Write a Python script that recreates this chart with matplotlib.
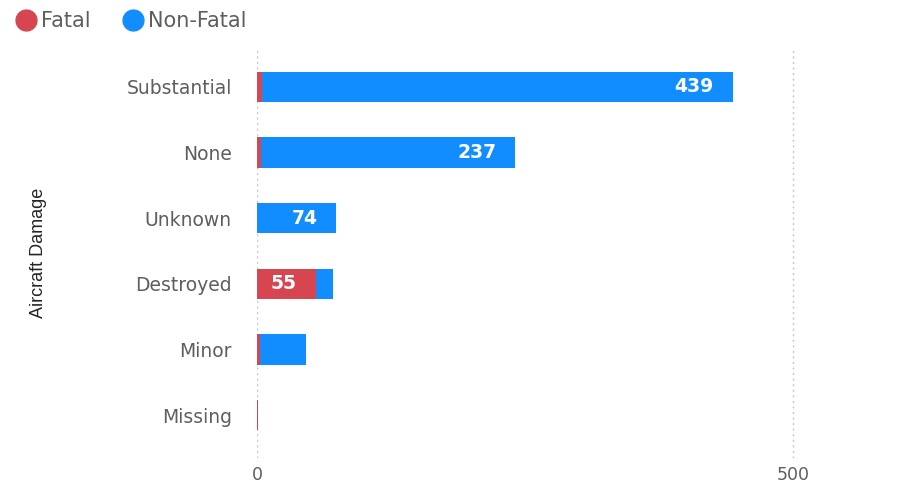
import matplotlib.pyplot as plt
from matplotlib.lines import Line2D

# 데이터: 항공기 손상 정도별 사고 건수
damage = ['Substantial', 'None', 'Unknown', 'Destroyed', 'Minor', 'Missing']
fatal = [5, 4, 0, 55, 3, 1]
non_fatal = [439, 237, 74, 16, 43, 0]
x_ticks = [0, 500]

RED = '#D64550'
BLUE = '#118DFF'
GRAY = '#605E5C'

plt.rcParams['font.family'] = ['DejaVu Sans']

fig = plt.figure(figsize=(9.11, 4.91), dpi=100)
ax = fig.add_axes([0.2821, 0.0672, 0.706, 0.8310])

y = list(range(len(damage)))
h = 0.46
ax.barh(y, fatal, height=h, color=RED, zorder=2)
ax.barh(y, non_fatal, height=h, left=fatal, color=BLUE, zorder=2)

# 막대 안쪽 끝에 값 표시 (공간이 충분할 때만)
for i in y:
    for val, start in [(fatal[i], 0), (non_fatal[i], fatal[i])]:
        if val >= 50:
            ax.annotate(str(val), xy=(start + val, i), xytext=(-19, 0),
                        textcoords='offset pixels', ha='right', va='center',
                        color='white', fontsize=13.5, fontweight='bold', zorder=3)

ax.set_xlim(0, 600)
ax.set_ylim(5.65, -0.56)
ax.set_xticks(x_ticks)
ax.set_xticklabels([str(t) for t in x_ticks])
ax.set_yticks(y)
ax.set_yticklabels(damage)
ax.tick_params(axis='y', length=0, pad=18, labelsize=13.5, labelcolor=GRAY)
ax.tick_params(axis='x', length=0, pad=6, labelsize=12.5, labelcolor=GRAY)
ax.grid(True, axis='x', color='#C8C6C4', linestyle=(0, (1.5, 2.5)), linewidth=1, zorder=0)
for s in ax.spines.values():
    s.set_visible(False)

fig.text(0.042, 0.485, 'Aircraft Damage', rotation=90, ha='center', va='center',
         fontsize=13, color='#252423', family=['Liberation Sans', 'DejaVu Sans'])

handles = [Line2D([], [], marker='o', linestyle='', markersize=15, color=RED),
           Line2D([], [], marker='o', linestyle='', markersize=15, color=BLUE)]
fig.legend(handles, ['Fatal', 'Non-Fatal'], loc='upper left', bbox_to_anchor=(-0.006, 1.015),
           ncol=2, frameon=False, fontsize=15, labelcolor=GRAY,
           handletextpad=0.15, columnspacing=1.4, handlelength=1.2)

fig.savefig('out.png', dpi=100)
